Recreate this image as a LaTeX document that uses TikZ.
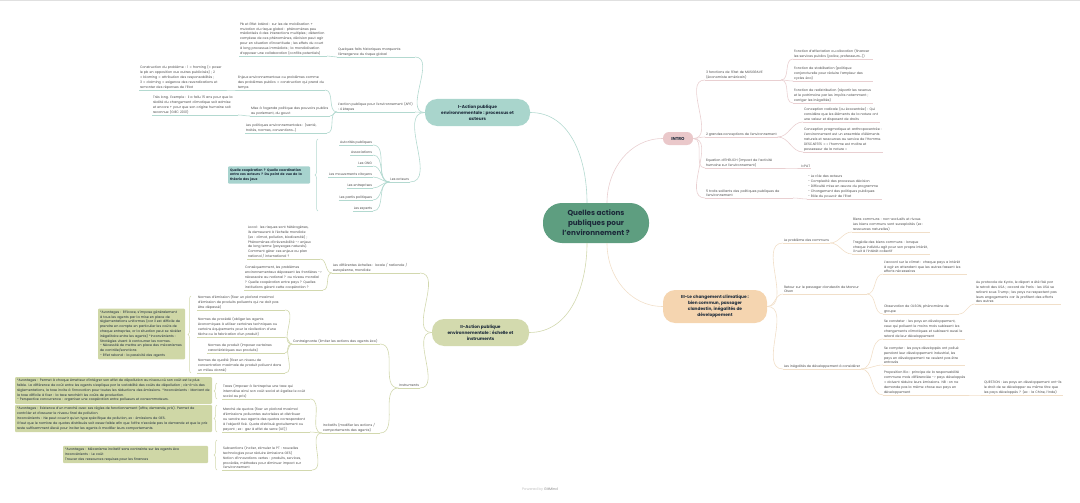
\documentclass[tikz,border=0pt]{standalone}
\usepackage{fontspec}
\setmainfont{Poppins}
\usepackage{tikz}
\usetikzlibrary{positioning}
\usetikzlibrary{decorations.pathreplacing}
\hyphenpenalty=10000
\exhyphenpenalty=10000

\definecolor{rootgreen}{HTML}{5E9E80}
\definecolor{roottext}{HTML}{1C2A3A}
\definecolor{tealnode}{HTML}{A9D5CC}
\definecolor{olivenode}{HTML}{D3DAAE}
\definecolor{pinknode}{HTML}{EAC8CA}
\definecolor{peachnode}{HTML}{F5D5B0}
\definecolor{linkteal}{HTML}{B3D9D0}
\definecolor{linkolive}{HTML}{D2D8AE}
\definecolor{linkpink}{HTML}{E9CFD1}
\definecolor{linkpeach}{HTML}{F1DFC9}
\definecolor{leaftext}{HTML}{4A4A4A}
\definecolor{notegreen}{HTML}{CFD7A6}
\definecolor{noteteal}{HTML}{A7D3CE}

\newcommand{\leaffont}{\fontsize{3.3}{4.8}\selectfont}
\newcommand{\branchfont}{\fontsize{4.3}{6}\selectfont\bfseries}
\newcommand{\rootfont}{\fontsize{7.2}{10}\selectfont\bfseries}

\tikzset{
  rootnode/.style={fill=rootgreen, text=roottext, font=\rootfont, align=center,
    rounded corners=19pt, minimum width=106pt, minimum height=40pt, inner sep=1pt},
  branch/.style={fill=#1, text=roottext, font=\branchfont, align=center,
    rounded corners=12pt, inner sep=1pt},
  leaf/.style={font=\leaffont, text=leaftext, align=left, inner sep=0.8pt,
    append after command={(\tikzlastnode.south west) edge[draw=#1, line width=0.5pt] (\tikzlastnode.south east)}},
  link/.style={draw=#1, line width=0.6pt},
  note/.style={fill=#1, font=\leaffont, text=roottext, align=left, inner sep=2pt, rounded corners=1pt},
  summary/.style={draw=#1, line width=0.5pt, decorate, decoration={brace, amplitude=3pt}},
}

\begin{document}
\begin{tikzpicture}[x=1pt, y=-1pt]
\useasboundingbox (0,0) rectangle (1080,503);
\draw[black!12] (0,0.5) -- (1080,0.5);

\node[rootnode] (root) at (596,223) {Quelles actions\\ publiques pour\\ l'environnement ?};
\node[branch=tealnode, minimum width=105pt, minimum height=27pt] (inode) at (477.5,112.5) {I-Action publique\\ environnementale : processus et\\ acteurs};
\node[branch=olivenode, minimum width=97pt, minimum height=27pt] (iinode) at (480.5,332.5) {II-Action publique\\ environnementale : échelle et\\ instruments};
\node[branch=pinknode, minimum width=30pt, minimum height=13pt, rounded corners=6pt] (intro) at (678,138.5) {INTRO};
\node[branch=peachnode, minimum width=104pt, minimum height=33pt] (iiinode) at (715,306.5) {III-Le changement climatique :\\ bien commun, passager\\ clandestin, inégalités de\\ développement};

\draw[link=linkteal] ([xshift=-9pt]root.north) to[out=90,in=0] (inode.east);
\draw[link=linkpink] ([xshift=11pt]root.north) to[out=90,in=180] (intro.west);
\draw[link=linkolive] ([xshift=-9pt]root.south) to[out=-90,in=0] (iinode.east);
\draw[link=linkpeach] ([xshift=11pt]root.south) to[out=-90,in=180] (iiinode.west);

% I
\node[leaf=linkteal, anchor=south east, text width=86pt] (pbeffet) at (327,56) {Pb et Effet latéral : sur les de mobilisation + mutation du risque global : phénomènes peu médiatisés à des interactions multiples ; détention complexe de ces phénomènes, décision peut agir pour en situation d'incertitude ; les effets du court à long processus immédiats ; la mondialisation d'opposer une collaboration (conflits potentiels)};
\node[leaf=linkteal, anchor=south east, text width=76pt] (faits) at (415,57) {Quelques faits historiques marquants l'émergence du risque global};
\node[leaf=linkteal, anchor=south east, text width=84pt] (construction) at (225,90) {Construction du problème : 1 = framing (= poser le pb en opposition aux autres publicisés) ; 2 = blaming = attribution des responsabilités ; 3 = claiming = exigence des revendications et remonter des réponses de l'Etat};
\node[leaf=linkteal, anchor=south east, text width=86pt] (etapes) at (325,90) {Enjeux environnementaux ou problèmes comme des problèmes publics = construction qui prend du temps};
\node[leaf=linkteal, anchor=south east, text width=84pt] (long) at (238,115) {Très long. Exemple : il a fallu 15 ans pour que la réalité du changement climatique soit admise et encore + pour que son origine humaine soit reconnue (GIEC 2001)};
\node[leaf=linkteal, anchor=south east, text width=78pt] (agenda) at (330,116) {Mise à l'agenda politique des pouvoirs publics au parlement, du gouvt};
\node[leaf=linkteal, anchor=south east, text width=80pt] (politiques) at (327,133) {Les politiques environnementales : (santé, traités, normes, conventions...)};
\node[leaf=linkteal, anchor=south east, text width=76pt] (ape) at (415,112) {L'action publique pour l'environnement (APE) : 4 étapes};
\node[leaf=linkteal, anchor=south east] (acteurs) at (410,182) {Les acteurs};
\node[leaf=linkteal, anchor=south east] (autorites) at (373,145) {Autorités publiques};
\node[leaf=linkteal, anchor=south east] (assoc) at (373,155) {Associations};
\node[leaf=linkteal, anchor=south east] (ong) at (373,166) {Les ONG};
\node[leaf=linkteal, anchor=south east] (mouv) at (373,177) {Les mouvements citoyens};
\node[leaf=linkteal, anchor=south east] (entreprises) at (373,188) {Les entreprises};
\node[leaf=linkteal, anchor=south east] (partis) at (373,200) {Les partis politiques};
\node[leaf=linkteal, anchor=south east] (experts) at (373,211) {Les experts};
\node[note=noteteal, text width=78pt, font=\leaffont\bfseries] (coopnote) at (269,175) {Quelle coopération ? Quelle coordination entre ces acteurs ? Du point de vue de la théorie des jeux};

\draw[link=linkteal] (inode.west) to[out=180,in=0] (faits.south east);
\draw[link=linkteal] (inode.west) to[out=180,in=0] (ape.south east);
\draw[link=linkteal] (inode.west) to[out=180,in=0] (acteurs.south east);
\draw[link=linkteal] (faits.south west) to[out=180,in=0] (pbeffet.south east);
\draw[link=linkteal] (ape.south west) to[out=180,in=0] (etapes.south east);
\draw[link=linkteal] (ape.south west) to[out=180,in=0] (agenda.south east);
\draw[link=linkteal] (ape.south west) to[out=180,in=0] (politiques.south east);
\draw[link=linkteal] (etapes.south west) to[out=180,in=0] (construction.south east);
\draw[link=linkteal] (agenda.south west) to[out=180,in=0] (long.south east);
\foreach \a in {autorites,assoc,ong,mouv,entreprises,partis,experts}
  \draw[link=linkteal] (acteurs.south west) to[out=180,in=0] (\a.south east);
\coordinate (coopbot) at (318,211);
\coordinate (cooptop) at (318,139);
\draw[summary=linkteal] (coopbot) -- (cooptop);

% II
\node[leaf=linkolive, anchor=south east, text width=71pt] (local) at (320,259) {Local : les risques sont hétérogènes, ils demeurent à l'échelle mondiale (ex : climat, pollution, biodiversité) ; Phénomènes d'irréversibilité -> enjeux de long terme (paysages naturels). Comment gérer ces enjeux au plan national / international ?};
\node[leaf=linkolive, anchor=south east, text width=77pt] (consequ) at (323,290) {Conséquemment, les problèmes environnementaux dépassent les frontières -> nécessaire au national ? au niveau mondial ? Quelle coopération entre pays ? Quelles institutions gèrent cette coopération ?};
\node[leaf=linkolive, anchor=south east, text width=86pt] (echelles) at (420,273) {Les différentes échelles : locale / nationale / européenne, mondiale};
\node[leaf=linkolive, anchor=south east, text width=86pt] (contraignante) at (380,344) {Contraignante (limiter les actions des agents éco)};
\node[leaf=linkolive, anchor=south east] (instruments) at (420,388) {Instruments};
\node[leaf=linkolive, anchor=south east, text width=56pt] (incitatifs) at (380,433) {Incitatifs (modifier les actions / comportements des agents)};
\node[leaf=linkolive, anchor=south east, text width=86pt] (emission) at (285,310) {Normes d'émission (fixer un plafond maximal d'émission de produits polluants qui ne doit pas être dépassé)};
\node[leaf=linkolive, anchor=south east, text width=86pt] (procede) at (285,337) {Normes de procédé (obliger les agents économiques à utiliser certaines techniques ou certains équipements pour la réalisation d'une tâche ou la fabrication d'un produit)};
\node[leaf=linkolive, anchor=south east, text width=76pt] (produit) at (285,353) {Normes de produit (imposer certaines caractéristiques aux produits)};
\node[leaf=linkolive, anchor=south east, text width=86pt] (qualite) at (285,373) {Normes de qualité (fixer un niveau de concentration maximale de produit polluant dans un milieu donné)};
\node[leaf=linkolive, anchor=south east, text width=86pt] (taxes) at (310,399) {Taxes (imposer à l'entreprise une taxe qui internalise ainsi son coût social et égalise le coût social au prix)};
\node[leaf=linkolive, anchor=south east, text width=86pt] (marche) at (310,432) {Marché de quotas (fixer un plafond maximal d'émissions polluantes autorisées et distribuer ou vendre aux agents des quotas correspondant à l'objectif fixé. Quota distribué gratuitement ou payant ; ex : gaz à effet de serre (UE))};
\node[leaf=linkolive, anchor=south east, text width=88pt] (subventions) at (312,470) {Subventions (inciter, stimuler le PT : nouvelles technologies pour réduire émissions GES)\\ Notion d'innovations vertes : produits, services, procédés, méthodes pour diminuer impact sur l'environnement};

\draw[link=linkolive] (iinode.west) to[out=180,in=0] (echelles.south east);
\draw[link=linkolive] (iinode.west) to[out=180,in=0] (instruments.south east);
\draw[link=linkolive] (echelles.south west) to[out=180,in=0] (local.south east);
\draw[link=linkolive] (echelles.south west) to[out=180,in=0] (consequ.south east);
\draw[link=linkolive] (instruments.south west) to[out=180,in=0] (contraignante.south east);
\draw[link=linkolive] (instruments.south west) to[out=180,in=0] (incitatifs.south east);
\foreach \n in {emission,procede,produit,qualite}
  \draw[link=linkolive] (contraignante.south west) to[out=180,in=0] (\n.south east);
\foreach \n in {taxes,marche,subventions}
  \draw[link=linkolive] (incitatifs.south west) to[out=180,in=0] (\n.south east);

\node[note=notegreen, text width=83pt] (normesnote) at (141.5,334) {*Avantages : Efficace, s'impose généralement à tous les agents par la mise en place de réglementations uniformes (car il est difficile de prendre en compte en particulier les coûts de chaque entreprise, or la situation peut se révéler inégalitaire entre les agents) *Inconvénients : Stratégies visant à contourner les normes.\\ - Nécessité de mettre en place des mécanismes de contrôle/sanctions\\ - Effet rebond : la passivité des agents};
\node[note=notegreen, text width=193pt] (taxesnote) at (113.5,390.5) {*Avantages : Permet à chaque émetteur d'intégrer son effet de dépollution au niveau où son coût est le plus faible. La différence de coût entre les agents s'explique par la variabilité des coûts de dépollution ; vis-à-vis des réglementations, la taxe incite à l'innovation pour toutes les réductions des émissions. *Inconvénients : Montant de la taxe difficile à fixer : la taxe renchérit les coûts de production.\\ - Perspective concurrence : organiser une coopération entre pollueurs et consommateurs.};
\node[note=notegreen, text width=193pt] (quotasnote) at (113.5,418.5) {*Avantages : Existence d'un marché avec ses règles de fonctionnement (offre, demande, prix). Permet de contrôler et d'assurer le niveau final de pollution.\\ *Inconvénients : Ne peut couvrir qu'un type spécifique de pollution, ex : émissions de GES.\\ Il faut que le nombre de quotas distribués soit assez faible afin que l'offre n'excède pas la demande et que le prix reste suffisamment élevé pour inciter les agents à modifier leurs comportements.};
\node[note=notegreen, text width=141pt] (subnote) at (135.5,454.5) {*Avantages : Mécanisme incitatif sans contrainte sur les agents éco\\ *Inconvénients : Le coût\\ *Trouver des ressources requises pour les finances};

\coordinate (normbot) at (191,373);
\coordinate (normtop) at (191,296);
\coordinate (taxbot) at (217,399);
\coordinate (taxtop) at (217,383);
\coordinate (quotbot) at (217,432);
\coordinate (quottop) at (217,405);
\coordinate (subbot) at (217,470);
\coordinate (subtop) at (217,440);
\draw[summary=linkolive] (normbot) -- (normtop);
\draw[summary=linkolive] (taxbot) -- (taxtop);
\draw[summary=linkolive] (quotbot) -- (quottop);
\draw[summary=linkolive] (subbot) -- (subtop);

% INTRO
\node[leaf=linkpink, anchor=south west, text width=74pt] (musgrave) at (705,80) {3 fonctions de l'Etat de MUSGRAVE (économiste américain)};
\node[leaf=linkpink, anchor=south west, text width=78pt] (affectation) at (793,59) {Fonction d'affectation ou allocation (financer les services publics (police, professeurs...))};
\node[leaf=linkpink, anchor=south west, text width=78pt] (stabilisation) at (793,81) {Fonction de stabilisation (politique conjoncturelle pour réduire l'ampleur des cycles éco)};
\node[leaf=linkpink, anchor=south west, text width=78pt] (redistribution) at (793,103) {Fonction de redistribution (répartir les revenus et le patrimoine par les impôts notamment ; corriger les inégalités)};
\node[leaf=linkpink, anchor=south west] (conceptions) at (705,137) {2 grandes conceptions de l'environnement};
\node[leaf=linkpink, anchor=south west, text width=75pt] (radicale) at (803,122) {Conception radicale (ou écocentrée) : Qui considère que les éléments de la nature ont une valeur et disposent de droits};
\node[leaf=linkpink, anchor=south west, text width=78pt] (pragmatique) at (803,152) {Conception pragmatique et anthropocentrée : L'environnement est un ensemble d'éléments naturels et ressources au service de l'Homme. DESCARTES = « l'homme est maître et possesseur de la nature »};
\node[leaf=linkpink, anchor=south west, text width=76pt] (ehrlich) at (705,168) {Equation d'EHRLICH (impact de l'activité humaine sur l'environnement)};
\node[leaf=linkpink, anchor=south west] (ipat) at (800,168) {I=PAT};
\node[leaf=linkpink, anchor=south west, text width=86pt] (traits) at (705,198) {5 traits saillants des politiques publiques de l'environnement};
\node[leaf=linkpink, anchor=south west, text width=73pt] (traitslist) at (807,199) {- Le rôle des acteurs\\ - Complexité des processus décision\\ - Difficulté mise en œuvre du programme\\ - Changement des politiques publiques\\ - Rôle du pouvoir de l'Etat};

\foreach \n in {musgrave,conceptions,ehrlich,traits}
  \draw[link=linkpink] (intro.east) to[out=0,in=180] (\n.south west);
\foreach \n in {affectation,stabilisation,redistribution}
  \draw[link=linkpink] (musgrave.south east) to[out=0,in=180] (\n.south west);
\draw[link=linkpink] (conceptions.south east) to[out=0,in=180] (radicale.south west);
\draw[link=linkpink] (conceptions.south east) to[out=0,in=180] (pragmatique.south west);
\draw[link=linkpink] (ehrlich.south east) to[out=0,in=180] (ipat.south west);
\draw[link=linkpink] (traits.south east) to[out=0,in=180] (traitslist.south west);

% III
\node[leaf=linkpeach, anchor=south west] (communs) at (783,243) {Le problème des communs};
\node[leaf=linkpeach, anchor=south west, text width=76pt] (biens) at (852,232) {Biens communs : non-exclusifs et rivaux. Les biens communs sont surexploités (ex : ressources naturelles)};
\node[leaf=linkpeach, anchor=south west, text width=76pt] (tragedie) at (852,254) {Tragédie des biens communs : lorsque chaque individu agit pour son propre intérêt, il nuit à l'intérêt collectif};
\node[leaf=linkpeach, anchor=south west, text width=82pt] (retour) at (783,294) {Retour sur le passager clandestin de Mancur Olson};
\node[leaf=linkpeach, anchor=south west, text width=82pt] (accord) at (883,274) {L'accord sur le climat : chaque pays a intérêt à agir en attendant que les autres fassent les efforts nécessaires};
\node[leaf=linkpeach, anchor=south west, text width=74pt] (observation) at (883,314) {Observation de OLSON, phénomène de groupe};
\node[leaf=linkpeach, anchor=south west, text width=84pt] (kyoto) at (975,304) {Au protocole de Kyoto, le départ a été fixé par le retrait des USA ; accord de Paris : les USA se retirent sous Trump ; les pays ne respectent pas leurs engagements car ils profitent des efforts des autres};
\node[leaf=linkpeach, anchor=south west] (inegalites) at (783,369) {Les inégalités de développement à considérer};
\node[leaf=linkpeach, anchor=south west, text width=80pt] (constat) at (883,339) {Se constater : les pays en développement, ceux qui polluent le moins mais subissent les changements climatiques et subissent aussi le retard de leur développement};
\node[leaf=linkpeach, anchor=south west, text width=80pt] (secompter) at (883,365) {Se compter : les pays développés ont pollué pendant leur développement industriel, les pays en développement ne veulent pas être entravés};
\node[leaf=linkpeach, anchor=south west, text width=82pt] (proposition) at (883,395) {Proposition Rio : principe de la responsabilité commune mais différenciée -> pays développés = doivent réduire leurs émissions. NB : on ne demande pas la même chose aux pays en développement};
\node[leaf=linkpeach, anchor=south west, text width=78pt] (question) at (983,395) {QUESTION : Les pays en développement ont-ils le droit de se développer au même titre que les pays développés ? (ex : la Chine, l'Inde)};

\foreach \n in {communs,retour,inegalites}
  \draw[link=linkpeach] (iiinode.east) to[out=0,in=180] (\n.south west);
\draw[link=linkpeach] (communs.south east) to[out=0,in=180] (biens.south west);
\draw[link=linkpeach] (communs.south east) to[out=0,in=180] (tragedie.south west);
\draw[link=linkpeach] (retour.south east) to[out=0,in=180] (accord.south west);
\draw[link=linkpeach] (retour.south east) to[out=0,in=180] (observation.south west);
\draw[link=linkpeach] (observation.south east) to[out=0,in=180] (kyoto.south west);
\foreach \n in {constat,secompter,proposition}
  \draw[link=linkpeach] (inegalites.south east) to[out=0,in=180] (\n.south west);
\draw[link=linkpeach] (proposition.south east) to[out=0,in=180] (question.south west);

\node[font=\fontsize{3.6}{4}\selectfont, text=black!25] (footer) at (540,490) {Powered by \textcolor{black!45}{GitMind}};
\end{tikzpicture}
\end{document}
